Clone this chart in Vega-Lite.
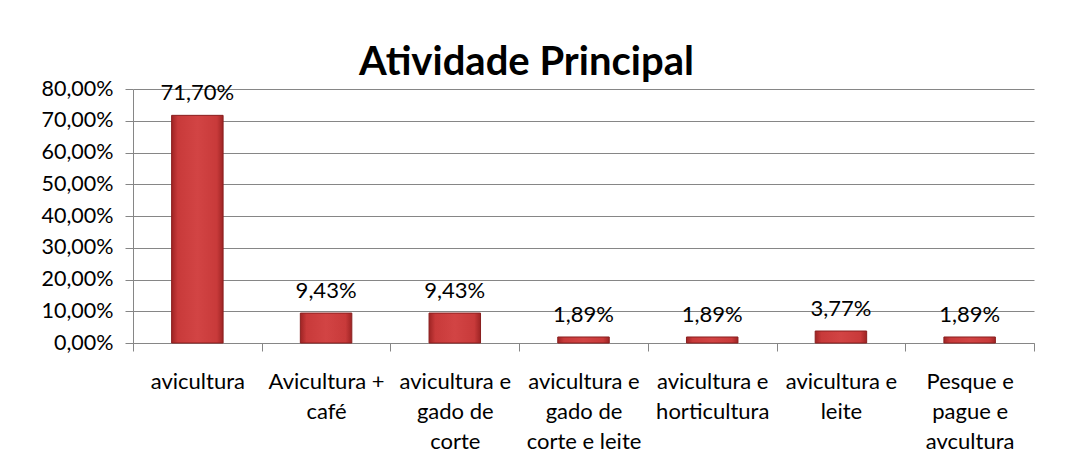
{
  "$schema": "https://vega.github.io/schema/vega-lite/v6.json",
  "autosize": {"type": "none"},
  "width": 901,
  "height": 254,
  "padding": {"left": 133, "top": 89, "right": 51, "bottom": 123},
  "background": "white",
  "config": {
    "locale": {"number": {"decimal": ",", "thousands": ".", "grouping": [3], "currency": ["R$", ""]}},
    "font": "Lato",
    "view": {"stroke": null}
  },
  "title": {
    "text": "Atividade Principal",
    "font": "Lato",
    "fontSize": 40,
    "fontWeight": "bold",
    "color": "#000000",
    "anchor": "middle",
    "frame": "group",
    "dx": -57,
    "baseline": "alphabetic",
    "offset": -37
  },
  "data": {
    "values": [
      {"atividade": "avicultura", "pct": 0.717},
      {"atividade": "Avicultura +|café", "pct": 0.0943},
      {"atividade": "avicultura e|gado de|corte", "pct": 0.0943},
      {"atividade": "avicultura e|gado de|corte e leite", "pct": 0.0189},
      {"atividade": "avicultura e|horticultura", "pct": 0.0189},
      {"atividade": "avicultura e|leite", "pct": 0.0377},
      {"atividade": "Pesque e|pague e|avcultura", "pct": 0.0189}
    ]
  },
  "encoding": {
    "x": {
      "field": "atividade",
      "type": "nominal",
      "sort": null,
      "scale": {"paddingInner": 0, "paddingOuter": 0},
      "axis": {
        "title": null,
        "labelAngle": 0,
        "labelExpr": "datum.value ? split(datum.value, '|') : ''",
        "labelFont": "Lato",
        "labelFontSize": 22,
        "labelColor": "#000000",
        "labelLineHeight": 30,
        "labelPadding": 20,
        "labelLimit": 200,
        "tickBand": "extent",
        "tickSize": 8,
        "tickColor": "#868686",
        "domainColor": "#868686",
        "grid": false
      }
    },
    "y": {
      "field": "pct",
      "type": "quantitative",
      "scale": {"domain": [0, 0.8], "nice": false},
      "axis": {
        "title": null,
        "format": ".2%",
        "values": [0, 0.1, 0.2, 0.3, 0.4, 0.5, 0.6, 0.7, 0.8],
        "labelFont": "Lato",
        "labelFontSize": 21.5,
        "labelColor": "#000000",
        "labelPadding": 12,
        "tickSize": 8,
        "tickColor": "#868686",
        "domainColor": "#868686",
        "gridColor": "#868686",
        "grid": true
      }
    }
  },
  "layer": [
    {
      "mark": {
        "type": "bar",
        "width": {"band": 0.4},
        "stroke": "#8a1f1f",
        "strokeWidth": 1,
        "color": {
          "gradient": "linear",
          "x1": 0, "y1": 0, "x2": 1, "y2": 0,
          "stops": [
            {"offset": 0, "color": "#9e2424"},
            {"offset": 0.12, "color": "#c83a3a"},
            {"offset": 0.5, "color": "#d24444"},
            {"offset": 0.88, "color": "#c83a3a"},
            {"offset": 1, "color": "#9e2424"}
          ]
        }
      }
    },
    {
      "mark": {
        "type": "text",
        "baseline": "alphabetic",
        "dy": -15,
        "font": "Lato",
        "fontSize": 22,
        "color": "#000000"
      },
      "encoding": {
        "text": {"field": "pct", "type": "quantitative", "format": ".2%"}
      }
    }
  ]
}
